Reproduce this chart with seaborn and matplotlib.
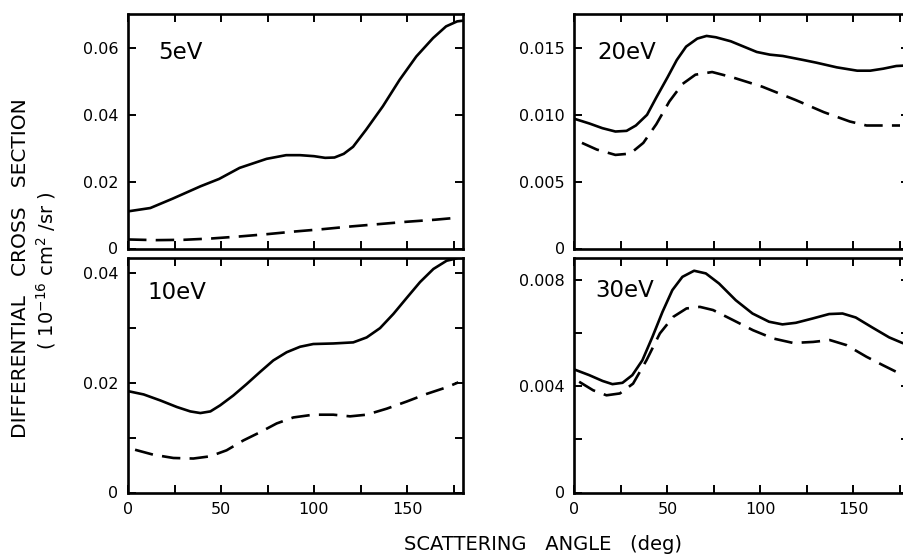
import numpy as np
import pandas as pd
import matplotlib
matplotlib.use("Agg")
import matplotlib.pyplot as plt
import seaborn as sns

# ---- datos (angulo en grados, seccion eficaz 1e-16 cm2/sr) ----
ang_5_sol = [0, 12, 24, 39, 49, 60, 74.5, 85, 92.5, 100, 106, 111, 116, 121, 128, 137, 146, 155, 164, 171, 177, 180]
val_5_sol = [0.0111, 0.0121, 0.0149, 0.0186, 0.0208, 0.0241, 0.0268, 0.0279, 0.0279, 0.0276, 0.0271,
             0.0272, 0.0283, 0.0304, 0.0355, 0.0425, 0.0504, 0.0574, 0.0629, 0.0664, 0.0679, 0.0681]
ang_5_das = [0, 15, 30, 45, 60, 75, 90, 105, 120, 135, 150, 165, 175]
val_5_das = [0.0027, 0.0025, 0.0026, 0.0030, 0.0036, 0.0043, 0.0051, 0.0058, 0.0066, 0.0073,
             0.0080, 0.0086, 0.0091]

ang_10_sol = [0, 8.4, 17.4, 26.3, 33.5, 38.9, 44.3, 49.5, 56.6, 63.8, 71, 78.1, 85.3, 92.5, 99.6,
              110.4, 121.1, 128.3, 135.5, 142.7, 149.8, 157, 164.2, 171.3, 177.6, 180]
val_10_sol = [0.0185, 0.0179, 0.0168, 0.0156, 0.0148, 0.0145, 0.0148, 0.0159, 0.0177, 0.0198,
              0.0220, 0.0241, 0.0256, 0.0266, 0.0271, 0.0272, 0.0274, 0.0283, 0.0300, 0.0326,
              0.0355, 0.0384, 0.0408, 0.0423, 0.0428, 0.0428]
ang_10_das = [3.8, 13.6, 24.4, 35.1, 44.1, 53, 62, 71, 79.9, 88.9, 99.6, 110.4, 119.4, 128.3,
              139.1, 149.8, 160.6, 171.3, 177.6]
val_10_das = [0.0078, 0.0069, 0.0063, 0.0062, 0.0066, 0.0077, 0.0095, 0.0110, 0.0126, 0.0137,
              0.0142, 0.0142, 0.0139, 0.0142, 0.0153, 0.0166, 0.0180, 0.0192, 0.0201]

ang_20_sol = [0, 8, 15, 22, 28, 33, 39, 44, 50, 55, 60, 66, 71, 76, 84, 91, 98, 105, 112, 123,
              130, 141, 152, 159, 166, 173, 180]
val_20_sol = [0.0097, 0.00935, 0.0090, 0.00875, 0.0088, 0.0092, 0.0100, 0.0113, 0.0128, 0.0141,
              0.0151, 0.0157, 0.0159, 0.0158, 0.0155, 0.0151, 0.0147, 0.0145, 0.0144, 0.0141,
              0.0139, 0.01355, 0.0133, 0.0133, 0.01345, 0.01365, 0.0137]
ang_20_das = [4, 12, 22, 30, 37, 44, 51, 58, 65, 74, 85, 101, 119, 134, 148, 157, 166, 175]
val_20_das = [0.0079, 0.0074, 0.0070, 0.0071, 0.0079, 0.0093, 0.0110, 0.0123, 0.0130, 0.0132,
              0.0128, 0.0121, 0.0111, 0.0102, 0.0095, 0.0092, 0.0092, 0.0092]

ang_30_sol = [0, 7.9, 15.1, 20.4, 25.8, 31.1, 36.5, 41.9, 47.3, 52.6, 58, 64.3, 70.6, 77.7, 86.7,
              95.7, 104.6, 111.8, 119, 127.9, 136.9, 144.1, 151.2, 160.2, 169.2, 176.3, 180]
val_30_sol = [0.00463, 0.00442, 0.00420, 0.00408, 0.00413, 0.00442, 0.00498, 0.00586, 0.00680,
              0.00762, 0.00812, 0.00835, 0.00825, 0.00787, 0.00724, 0.00674, 0.00643, 0.00633,
              0.00639, 0.00655, 0.00672, 0.00674, 0.00659, 0.00621, 0.00584, 0.00563, 0.00556]
ang_30_das = [2.5, 10, 17.2, 24.4, 31.5, 38.7, 45.9, 53, 60.2, 67.4, 74.5, 85.3, 96, 106.8, 117.6,
              128.3, 137.3, 146.2, 157, 165.9, 173.1]
val_30_das = [0.00417, 0.00385, 0.00366, 0.00373, 0.00410, 0.00498, 0.00599, 0.00661, 0.00693,
              0.00699, 0.00687, 0.00649, 0.00611, 0.00580, 0.00563, 0.00567, 0.00574, 0.00555,
              0.00511, 0.00479, 0.00454]

etiquetas = ["5eV", "20eV", "10eV", "30eV"]
yticks = [[0, 0.02, 0.04, 0.06],
          [0, 0.005, 0.010, 0.015],
          [0, 0.01, 0.02, 0.03, 0.04],
          [0, 0.002, 0.004, 0.006, 0.008]]
ylabels = [["0", "0.02", "0.04", "0.06"],
           ["0", "0.005", "0.010", "0.015"],
           ["0", "", "0.02", "", "0.04"],
           ["0", "", "0.004", "", "0.008"]]
ylims = [0.0701, 0.01754, 0.0428, 0.00883]
xticks = [0, 25, 50, 75, 100, 125, 150, 175]
xlabels = ["0", "", "50", "", "100", "", "150", ""]

curvas = [
    (ang_5_sol, val_5_sol, ang_5_das, val_5_das),
    (ang_20_sol, val_20_sol, ang_20_das, val_20_das),
    (ang_10_sol, val_10_sol, ang_10_das, val_10_das),
    (ang_30_sol, val_30_sol, ang_30_das, val_30_das),
]

sns.set_theme(style="ticks")
plt.rcParams["font.family"] = ["DejaVu Sans"]
plt.rcParams["text.color"] = "black"

W, H = 904, 556
fig = plt.figure(figsize=(W / 100, H / 100), dpi=100)

# posiciones en pixeles (izq, arriba, ancho, alto)
cajas = [(128, 14, 334.8, 234.5), (574.5, 14, 334.8, 234.5),
         (128, 258, 334.8, 234.5), (574.5, 258, 334.8, 234.5)]
pos_etq = [(0.09, 0.834), (0.067, 0.834), (0.057, 0.855), (0.061, 0.863)]

for i, (x0, y0, w, h) in enumerate(cajas):
    ax = fig.add_axes([x0 / W, 1 - (y0 + h) / H, w / W, h / H])
    a_s, v_s, a_d, v_d = curvas[i]
    sns.lineplot(x=a_s, y=v_s, ax=ax, color="black", lw=1.9,
                 solid_joinstyle="round", solid_capstyle="round")
    sns.lineplot(x=a_d, y=v_d, ax=ax, color="black", lw=1.9, linestyle=(0, (7, 3.5)),
                 dash_joinstyle="round")
    ax.set_xlim(0, 180)
    ax.set_ylim(0, ylims[i])
    ax.set_xticks(xticks)
    if i >= 2:
        ax.set_xticklabels(xlabels)
    else:
        ax.set_xticklabels([""] * len(xticks))
    ax.set_yticks(yticks[i])
    ax.set_yticklabels(ylabels[i])
    ax.tick_params(direction="in", length=6, width=1.4, top=True, right=True,
                   labelsize=11.5, pad=7, colors="black")
    for s in ax.spines.values():
        s.set_linewidth(1.9)
        s.set_color("black")
    ax.text(pos_etq[i][0], pos_etq[i][1], etiquetas[i], transform=ax.transAxes,
            fontsize=16.5, ha="left", va="center", color="black")

fig.text(21 / W, 1 - 268 / H, "DIFFERENTIAL   CROSS   SECTION", rotation=90,
         ha="center", va="center", fontsize=14.5)
fig.text(46 / W, 1 - 271 / H, r"( 10$^{-16}$ cm$^{2}$ /sr )", rotation=90,
         ha="center", va="center", fontsize=14)
fig.text(543 / W, 1 - 545 / H, "SCATTERING   ANGLE   (deg)", ha="center", va="center",
         fontsize=14)

fig.savefig("out.png", dpi=100, facecolor="white")
